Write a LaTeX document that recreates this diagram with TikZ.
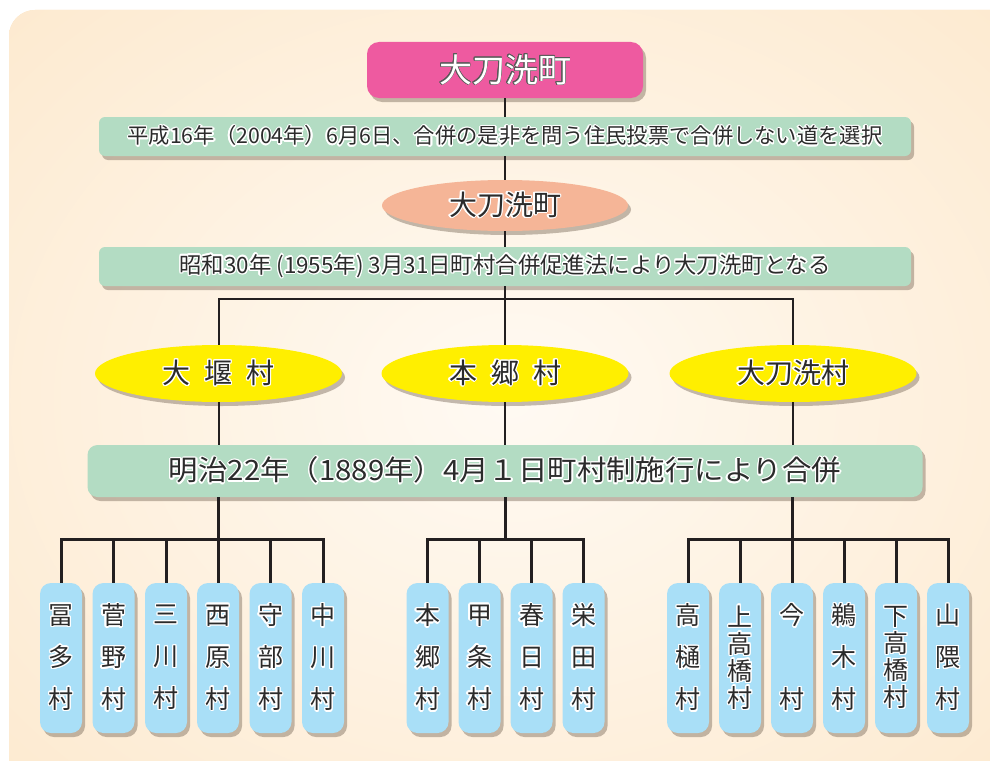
\documentclass[tikz,border=0pt]{standalone}
\usepackage{fontspec}
\setmainfont{Noto Sans CJK JP}
\usepackage{contour}
\contourlength{1.3pt}
\usetikzlibrary{shapes.geometric,shadows}

\definecolor{bgout}{HTML}{FCE3C1}
\definecolor{bgin}{HTML}{FFFAF3}
\definecolor{pinkbox}{HTML}{EE5AA0}
\definecolor{greenband}{HTML}{B3DCC3}
\definecolor{salmon}{HTML}{F5B597}
\definecolor{yellowell}{HTML}{FFEF00}
\definecolor{bluecol}{HTML}{A9DFF7}
\definecolor{linec}{HTML}{231F20}
\definecolor{txt}{HTML}{2B2B2B}
\definecolor{shadowc}{HTML}{7A6A5A}

\newcommand{\halo}[1]{{\color{txt}\contour{white}{#1}}}

\tikzset{
  shd/.style={drop shadow={shadow xshift=3pt, shadow yshift=-4pt, fill=shadowc, opacity=0.45}},
  band/.style={shd, fill=greenband, rounded corners=6pt, inner sep=0pt},
  ellbox/.style={shd, ellipse, minimum width=247pt, minimum height=57pt, inner sep=0pt},
  colbox/.style={shd, fill=bluecol, rounded corners=11pt, minimum width=42pt, minimum height=150pt, inner sep=0pt, align=center},
  conn/.style={draw=linec, line width=2pt},
  connb/.style={draw=linec, line width=3pt},
  three/.style={font=\fontsize{25}{42}\selectfont},
  four/.style={font=\fontsize{25}{27}\selectfont},
}

\begin{document}
\begin{tikzpicture}[x=1pt,y=-1pt]
\useasboundingbox (0,0) rectangle (990,760);
% background
\begin{scope}
  \clip[rounded corners=26pt] (9,10) rectangle (1030,800);
  \fill[bgout] (0,0) rectangle (990,760);
  \shade[inner color=bgin, outer color=bgout] (510,400) ellipse [x radius=1000, y radius=800];
\end{scope}

% top
\node[shd, fill=pinkbox, rounded corners=12pt, minimum width=276pt, minimum height=56pt, inner sep=0pt,
      font=\fontsize{33}{36}\selectfont, text=white] (town) at (505,70) {\contourlength{0.6pt}\contour{black!65}{大刀洗町}};
\node[band, minimum width=812pt, minimum height=39pt, font=\fontsize{21.3}{24}\selectfont] (ev2004) at (505,136.5)
  {\halo{平成16年（2004年）6月6日、合併の是非を問う住民投票で合併しない道を選択}};
\node[ellbox, fill=salmon, minimum width=246pt, minimum height=51pt, font=\fontsize{28}{32}\selectfont] (town55) at (505,205.5) {\halo{大刀洗町}};
\node[band, minimum width=812pt, minimum height=39pt, font=\fontsize{22.4}{24}\selectfont] (ev1955) at (505,266.5)
  {\halo{昭和30年 (1955年) 3月31日町村合併促進法により大刀洗町となる}};

% villages of 1889-1955
\node[ellbox, fill=yellowell, font=\fontsize{28}{32}\selectfont] (ozeki) at (218.5,373.5) {\halo{大\hspace{0.5em}堰\hspace{0.5em}村}};
\node[ellbox, fill=yellowell, font=\fontsize{28}{32}\selectfont] (hongo) at (505,373.5) {\halo{本\hspace{0.5em}郷\hspace{0.5em}村}};
\node[ellbox, fill=yellowell, font=\fontsize{28}{32}\selectfont] (tachiarai) at (793,373.5) {\halo{大刀洗村}};

\node[band, rounded corners=10pt, minimum width=835pt, minimum height=52pt, font=\fontsize{28}{30}\selectfont] (ev1889) at (505,471)
  {\scalebox{1.05}[1]{\halo{明治22年（1889年）4月１日町村制施行により合併}}};

% old villages
\node[colbox, three] (c1) at (61,658) {\halo{冨}\\\halo{多}\\\halo{村}};
\node[colbox, three] (c2) at (113.5,658) {\halo{菅}\\\halo{野}\\\halo{村}};
\node[colbox, three] (c3) at (166,658) {\halo{三}\\\halo{川}\\\halo{村}};
\node[colbox, three] (c4) at (218,658) {\halo{西}\\\halo{原}\\\halo{村}};
\node[colbox, three] (c5) at (270.5,658) {\halo{守}\\\halo{部}\\\halo{村}};
\node[colbox, three] (c6) at (323,658) {\halo{中}\\\halo{川}\\\halo{村}};

\node[colbox, three] (m1) at (427.5,658) {\halo{本}\\\halo{郷}\\\halo{村}};
\node[colbox, three] (m2) at (479.5,658) {\halo{甲}\\\halo{条}\\\halo{村}};
\node[colbox, three] (m3) at (531.5,658) {\halo{春}\\\halo{日}\\\halo{村}};
\node[colbox, three] (m4) at (583.5,658) {\halo{栄}\\\halo{田}\\\halo{村}};

\node[colbox, three] (r1) at (688,658) {\halo{高}\\\halo{樋}\\\halo{村}};
\node[colbox, four] (r2) at (740,658) {\halo{上}\\\halo{高}\\\halo{橋}\\\halo{村}};
\node[colbox, three] (r3) at (792,658) {\halo{今}\\[42pt]\halo{村}};
\node[colbox, three] (r4) at (844,658) {\halo{鵜}\\\halo{木}\\\halo{村}};
\node[colbox, four] (r5) at (896,658) {\halo{下}\\\halo{高}\\\halo{橋}\\\halo{村}};
\node[colbox, three] (r6) at (948,658) {\halo{山}\\\halo{隈}\\\halo{村}};

% connectors (top)
\draw[conn] (town.south) -- (ev2004.north);
\draw[conn] (ev2004.south) -- (town55.north);
\draw[conn] (town55.south) -- (ev1955.north);
\coordinate (j1) at (505,299);
\draw[conn] (ev1955.south) -- (j1);
\draw[conn] (ozeki.north) |- (j1) -| (tachiarai.north);
\draw[conn] (j1) -- (hongo.north);
\draw[conn] (ozeki.south) -- (ozeki.south |- ev1889.north);
\draw[conn] (hongo.south) -- (ev1889.north);
\draw[conn] (tachiarai.south) -- (tachiarai.south |- ev1889.north);

% connectors (bottom)
\coordinate (jl) at (218,539);
\coordinate (jm) at (505,539);
\coordinate (jr) at (792,539);
\draw[connb] (ev1889.south -| c4) -- (c4.north);
\draw[connb] (c1.north) |- (jl) -| (c6.north);
\foreach \c in {c2,c3,c5} \draw[connb] (\c.north) -- (\c.north |- jl);
\draw[connb] (ev1889.south) -- (jm);
\draw[connb] (m1.north) |- (jm) -| (m4.north);
\foreach \c in {m2,m3} \draw[connb] (\c.north) -- (\c.north |- jm);
\draw[connb] (ev1889.south -| r3) -- (r3.north);
\draw[connb] (r1.north) |- (jr) -| (r6.north);
\foreach \c in {r2,r4,r5} \draw[connb] (\c.north) -- (\c.north |- jr);
\end{tikzpicture}
\end{document}
